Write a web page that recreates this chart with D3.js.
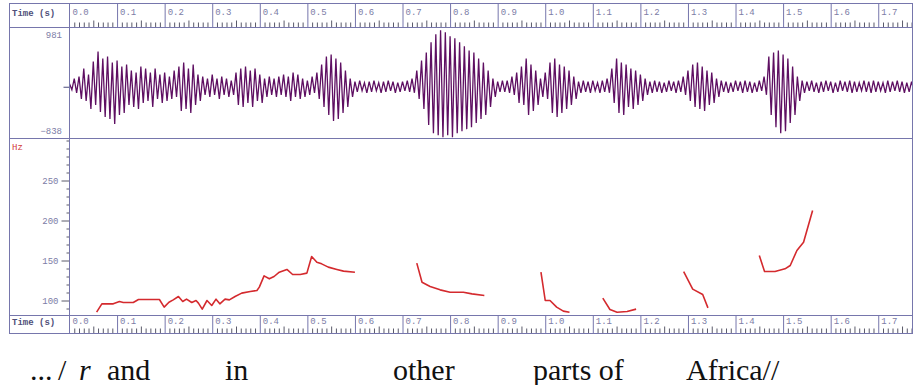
<!DOCTYPE html>
<html>
<head>
<meta charset="utf-8">
<script src="https://cdn.jsdelivr.net/npm/d3@7"></script>
<style>
  body { margin: 0; background: #fff; }
  svg { display: block; }
</style>
</head>
<body>
<svg id="chart" width="916" height="385"></svg>
<script>
// Time axis labels (seconds)
const timeLabels = ["0.0","0.1","0.2","0.3","0.4","0.5","0.6","0.7","0.8","0.9","1.0","1.1","1.2","1.3","1.4","1.5","1.6","1.7"];
const timeTicks = [0.0,0.1,0.2,0.3,0.4,0.5,0.6,0.7,0.8,0.9,1.0,1.1,1.2,1.3,1.4,1.5,1.6,1.7];
const timeEnd = 1.772;

// Waveform: positive and negative peak amplitude for each 10 ms frame
const waveStep = 0.01;
const wavePeakHi = [
  51,136,170,306,204,425,595,476,510,408,
  442,340,374,272,238,340,306,238,306,204,
  238,170,272,340,408,306,374,204,170,136,
  204,136,170,136,102,238,306,340,272,306,
  204,136,170,136,170,204,170,238,204,136,
  102,170,238,374,510,544,476,408,272,136,
  85,102,68,85,102,68,85,102,85,68,
  85,102,136,272,442,578,748,884,952,918,
  850,816,748,680,612,578,476,408,272,136,
  85,102,102,170,238,340,476,374,272,136,
  238,408,476,374,340,272,170,85,102,85,
  102,68,102,136,306,476,408,374,306,272,
  204,136,85,102,85,68,102,85,102,170,
  272,374,408,340,272,238,136,102,85,68,
  102,85,102,85,68,102,170,510,578,612,
  544,476,340,170,102,85,102,68,85,102,
  85,68,102,85,102,85,68,102,85,102,
  85,68,102,85,102,85,68,85
];
const wavePeakLo = [
  -51,-102,-204,-238,-374,-306,-425,-510,-544,-629,
  -476,-442,-306,-340,-374,-272,-238,-340,-204,-272,
  -238,-204,-170,-408,-374,-442,-306,-238,-136,-170,
  -136,-204,-136,-170,-136,-306,-340,-272,-340,-238,
  -272,-170,-136,-170,-136,-170,-238,-170,-204,-170,
  -136,-102,-204,-340,-476,-578,-544,-442,-340,-170,
  -85,-68,-102,-85,-68,-102,-85,-68,-102,-85,
  -68,-85,-102,-204,-374,-646,-782,-816,-850,-816,
  -850,-782,-748,-714,-680,-612,-544,-476,-340,-170,
  -85,-85,-102,-136,-272,-306,-476,-408,-306,-170,
  -204,-442,-510,-442,-374,-306,-204,-102,-85,-102,
  -68,-102,-85,-102,-272,-442,-476,-340,-374,-306,
  -238,-136,-102,-85,-102,-85,-68,-102,-85,-136,
  -238,-340,-374,-408,-306,-272,-170,-85,-102,-85,
  -68,-102,-85,-102,-85,-68,-136,-476,-680,-782,
  -748,-612,-476,-238,-102,-68,-85,-102,-85,-68,
  -102,-85,-68,-85,-102,-85,-68,-85,-102,-85,
  -68,-102,-85,-68,-85,-102,-85,-68
];
const waveMax = 981, waveMin = -838;

// Pitch track (Hz), voiced stretches
const pitchTimes = [
  [0.057,0.068,0.092,0.105,0.113,0.134,0.145,0.189,0.199,0.209,0.218,0.229,0.238,0.246,0.257,0.266,0.271,0.279,0.289,0.299,0.308,0.316,0.327,0.336,0.348,0.362,0.380,0.394,0.399,0.409,0.420,0.430,0.441,0.457,0.469,0.485,0.499,0.509,0.520,0.530,0.544,0.562,0.576,0.600],
  [0.730,0.741,0.758,0.779,0.800,0.828,0.846,0.872],
  [0.991,1.000,1.010,1.024,1.038,1.051],
  [1.121,1.136,1.151,1.172,1.191],
  [1.291,1.310,1.331,1.342],
  [1.450,1.461,1.483,1.504,1.515,1.529,1.543,1.562]
];
const pitchHz = [
  [85.4,95.8,95.8,98.8,97.5,97.5,101.2,101.2,91.7,97.9,100.8,105,98.8,101.7,97.5,100,96.7,89.2,100,93.8,101.7,95.8,101.7,100.8,105,109.2,111.2,112.5,116.7,130.8,127.1,130,135.4,138.8,132.5,132.5,134.2,155,147.9,145.8,141.7,138.8,136.7,135.4],
  [146.7,122.9,117.5,113.3,110.4,110.4,108.3,106.2],
  [135.4,100,100,91.7,86.7,85.4],
  [102.9,88.8,85.4,86.2,89.2],
  [136.2,114.2,107.5,90.8],
  [156.2,136.2,136.2,139.6,143.8,162.5,172.9,212.5]
];
const pitchLabelTicks = [100,150,200,250];
const pitchMinorTicks = [90,110,120,130,140,160,170,180,190,210,220,230,240,260,270,280,290,300];
const pitchMin = 81.25, pitchMax = 302.5;

// Transcript under the display
const words = ["...", "/", "r", "and", "in", "other", "parts of", "Africa//"];
const wordItalic = [false, false, true, false, false, false, false, false];

// ---- layout ----
const L = { outerLeft: 9, left: 69.5, right: 912.5, top: 3.5, band1: 27.5, wave: 138.5, pitch: 315.5, bottom: 333.5 };
const frameColor = "#7676ac";
const tickColor = "#5a5a6a";
const labelColor = "#7c7ca6";
const mono = "'Liberation Mono', 'DejaVu Sans Mono', monospace";

const svg = d3.select("#chart");

const x = d3.scaleLinear().domain([0, timeEnd]).range([L.left, L.right]);
const yWave = d3.scaleLinear().domain([waveMin, waveMax]).range([136.5, 28.5]);
const yPitch = d3.scaleLinear().domain([pitchMin, pitchMax]).range([L.pitch, L.wave]);

// Time bands (top and bottom)
function timeBand(yTop, yBottom, labelBase) {
  const g = svg.append("g");
  // minor ticks every 10 ms
  const minor = d3.range(1, 178).filter(i => i % 10 !== 0).map(i => i / 100).filter(t => t < timeEnd);
  const short = minor.filter(t => Math.round(t * 100) % 10 !== 5);
  const mid = minor.filter(t => Math.round(t * 100) % 10 === 5);
  g.append("g").attr("transform", `translate(0,${yBottom})`)
    .call(d3.axisTop(x).tickValues(short).tickSize(5).tickFormat(""))
    .call(a => a.select(".domain").remove())
    .selectAll("line").attr("stroke", tickColor);
  g.append("g").attr("transform", `translate(0,${yBottom})`)
    .call(d3.axisTop(x).tickValues(mid).tickSize(7).tickFormat(""))
    .call(a => a.select(".domain").remove())
    .selectAll("line").attr("stroke", tickColor);
  // tenth-of-a-second dividers
  g.append("g").attr("transform", `translate(0,${yBottom})`)
    .call(d3.axisTop(x).tickValues(timeTicks.slice(1)).tickSize(yBottom - yTop).tickFormat(""))
    .call(a => a.select(".domain").remove())
    .selectAll("line").attr("stroke", frameColor);
  g.selectAll("text.tl").data(timeTicks).join("text")
    .attr("class", "tl")
    .attr("x", d => x(d) + 3).attr("y", labelBase)
    .attr("font-family", mono).attr("font-size", 9).attr("fill", labelColor)
    .text((d, i) => timeLabels[i]);
  g.append("text").attr("x", 12).attr("y", labelBase + 1)
    .attr("font-family", mono).attr("font-size", 9).attr("font-weight", "bold")
    .attr("fill", "#50507a").text("Time  (s)");
}
timeBand(L.top, L.band1, 15);
timeBand(L.pitch, L.bottom, 324);

// Waveform
const wavePts = [];
wavePeakHi.forEach((v, i) => {
  wavePts.push([i * waveStep, v]);
  wavePts.push([i * waveStep + waveStep / 2, wavePeakLo[i]]);
});
svg.append("clipPath").attr("id", "waveClip").append("rect")
  .attr("x", L.left).attr("y", L.band1).attr("width", L.right - L.left).attr("height", L.wave - L.band1);
svg.append("path").datum(wavePts)
  .attr("clip-path", "url(#waveClip)")
  .attr("fill", "none").attr("stroke", "#5e0f62").attr("stroke-width", 1.3)
  .attr("d", d3.line().x(d => x(d[0])).y(d => yWave(d[1])));

// waveform amplitude labels and zero tick
svg.append("text").attr("x", 62).attr("y", 38).attr("text-anchor", "end")
  .attr("font-family", mono).attr("font-size", 9).attr("fill", labelColor).text(String(waveMax));
svg.append("text").attr("x", 62).attr("y", 134).attr("text-anchor", "end")
  .attr("font-family", mono).attr("font-size", 9).attr("fill", labelColor).text(String(waveMin).replace("-", "\u2212"));
svg.append("g").attr("transform", `translate(${L.left},0)`)
  .call(d3.axisLeft(yWave).tickValues([0]).tickSize(6).tickFormat(""))
  .call(a => a.select(".domain").remove())
  .selectAll("line").attr("stroke", "#4a4a7a");

// Pitch axis
const pAxis = svg.append("g").attr("transform", `translate(${L.left},0)`);
pAxis.append("g")
  .call(d3.axisLeft(yPitch).tickValues(pitchMinorTicks).tickSize(3).tickFormat(""))
  .call(a => a.select(".domain").remove())
  .selectAll("line").attr("stroke", tickColor);
pAxis.append("g")
  .call(d3.axisLeft(yPitch).tickValues(pitchLabelTicks).tickSize(8).tickPadding(3))
  .call(a => a.select(".domain").remove())
  .call(a => a.selectAll("line").attr("stroke", tickColor))
  .call(a => a.selectAll("text").attr("font-family", mono).attr("font-size", 9).attr("fill", labelColor));
svg.append("text").attr("x", 12).attr("y", 150)
  .attr("font-family", mono).attr("font-size", 9).attr("fill", "#d23a3a").text("Hz");

// Pitch curves
const pLine = d3.line().x(d => x(d[0])).y(d => yPitch(d[1]));
svg.selectAll("path.pitch").data(pitchTimes.map((ts, k) => ts.map((t, j) => [t, pitchHz[k][j]])))
  .join("path").attr("class", "pitch")
  .attr("fill", "none").attr("stroke", "#d42a2e").attr("stroke-width", 1.6)
  .attr("stroke-linejoin", "round")
  .attr("d", pLine);

// Frame lines
const frame = svg.append("g").attr("stroke", frameColor).attr("stroke-width", 1).attr("fill", "none");
frame.append("rect").attr("x", L.outerLeft + 0.5).attr("y", L.top).attr("width", L.right - L.outerLeft - 0.5).attr("height", L.bottom - L.top);
[L.band1, L.wave, L.pitch].forEach(yy => frame.append("line").attr("x1", L.outerLeft).attr("x2", L.right).attr("y1", yy).attr("y2", yy));
frame.append("line").attr("x1", L.left).attr("x2", L.left).attr("y1", L.top).attr("y2", L.bottom);

// Transcript
const wordX = [30, 58, 79, 107, 225, 393, 533, 686];
svg.selectAll("text.word").data(words).join("text").attr("class", "word")
  .attr("x", (d, i) => wordX[i]).attr("y", 380)
  .attr("font-family", "'Liberation Serif', 'Times New Roman', serif")
  .attr("font-size", 30)
  .attr("font-style", (d, i) => wordItalic[i] ? "italic" : "normal")
  .attr("fill", "#111")
  .text(d => d);
</script>
</body>
</html>
